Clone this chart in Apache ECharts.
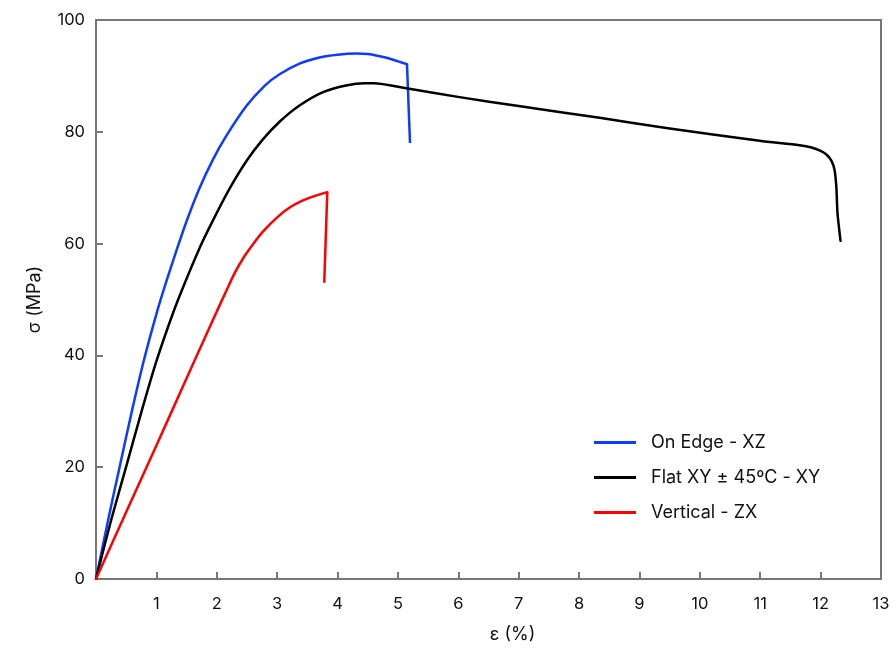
<!DOCTYPE html>
<html>
<head>
<meta charset="utf-8">
<script src="https://cdn.jsdelivr.net/npm/echarts@6/dist/echarts.min.js"></script>
<style>
  html, body { margin: 0; padding: 0; background: #fff; }
  #main { width: 896px; height: 650px; }
</style>
</head>
<body>
<div id="main"></div>
<script>
// strain (%) / stress (MPa) pairs
var onEdgeXZ = [
  [0, 0], [0.2, 10.5], [0.4, 20.5], [0.6, 30.3], [0.79, 39.0], [1.0, 47.4], [1.17, 53.4],
  [1.34, 59.0], [1.5, 64.0], [1.71, 69.8], [1.93, 74.9], [2.16, 79.3], [2.49, 84.6],
  [2.8, 88.3], [3.04, 90.3], [3.37, 92.2], [3.7, 93.3], [4.0, 93.8], [4.31, 94.0],
  [4.5, 93.9], [4.7, 93.5], [4.92, 92.9], [5.15, 92.1]
];
var onEdgeXZBreak = [[5.15, 92.1], [5.2, 78.0]];
var flatXY45 = [
  [0, 0], [0.25, 10.5], [0.51, 20.5], [0.75, 29.8], [0.99, 38.6], [1.2, 45.3], [1.39, 50.8],
  [1.74, 59.8], [2.0, 65.5], [2.21, 69.8], [2.5, 74.9], [2.76, 78.6], [3.04, 81.8],
  [3.37, 84.7], [3.76, 87.1], [4.14, 88.3], [4.45, 88.7], [4.6, 88.7], [5.14, 87.8],
  [6.02, 86.2], [7.0, 84.6], [8.34, 82.5], [9.5, 80.6], [10.99, 78.4], [11.65, 77.6],
  [11.85, 77.2], [12.0, 76.6], [12.1, 75.9], [12.18, 74.8], [12.23, 73.2], [12.26, 70.2],
  [12.28, 65.4], [12.33, 60.5]
];
var verticalZX = [
  [0, 0], [0.5, 12], [1.0, 23.9], [1.5, 35.9], [1.93, 46.2], [2.16, 51.6], [2.3, 54.8],
  [2.45, 57.6], [2.6, 59.9], [2.76, 62.1], [3.0, 64.7], [3.2, 66.4], [3.4, 67.6],
  [3.59, 68.4], [3.83, 69.2]
];
var verticalZXBreak = [[3.83, 69.2], [3.78, 53.0]];

var seriesNames = ['On Edge - XZ', 'Flat XY ± 45ºC - XY', 'Vertical - ZX'];
var seriesColors = ['#0d3bff', '#000000', '#ff0000'];
var seriesData = [onEdgeXZ, flatXY45, verticalZX];
var breakData = [onEdgeXZBreak, null, verticalZXBreak];

var FONT = 'Inter, "Noto Sans", sans-serif';
var GREY = '#777777';

var chart = echarts.init(document.getElementById('main'), null, { renderer: 'canvas' });

var series = [];
for (var i = 0; i < seriesData.length; i++) {
  series.push({
    name: seriesNames[i],
    type: 'line',
    data: seriesData[i],
    showSymbol: false,
    symbol: 'none',
    smooth: 0.25,
    color: seriesColors[i],
    lineStyle: { width: 2.5, color: seriesColors[i], cap: 'round', join: 'round' }
  });
  // sharp drop at fracture, drawn straight
  if (breakData[i]) {
    series.push({
      name: seriesNames[i],
      type: 'line',
      data: breakData[i],
      showSymbol: false,
      symbol: 'none',
      smooth: false,
      color: seriesColors[i],
      lineStyle: { width: 2.5, color: seriesColors[i] }
    });
  }
}

var option = {
  animation: false,
  backgroundColor: '#fff',
  textStyle: { fontFamily: FONT },
  grid: {
    left: 96, right: 15, top: 20, bottom: 71,
    show: true, borderColor: GREY, borderWidth: 2, backgroundColor: 'transparent'
  },
  legend: {
    orient: 'vertical',
    left: 589, top: 427,
    itemWidth: 42, itemHeight: 3, itemGap: 14,
    icon: 'rect',
    data: seriesNames,
    textStyle: { fontSize: 18, color: '#111', padding: [0, 0, 0, 10], lineHeight: 21, fontFamily: FONT }
  },
  xAxis: {
    type: 'value', min: 0, max: 13, interval: 1,
    name: 'ε (%)', nameLocation: 'middle', nameGap: 47,
    nameTextStyle: { fontSize: 18, color: '#111', padding: [0, 0, 0, 48] },
    axisLine: { show: true, lineStyle: { color: GREY, width: 2 } },
    axisTick: { show: true, inside: true, length: 7, lineStyle: { color: GREY, width: 2 } },
    axisLabel: {
      fontSize: 16.5, color: '#111', margin: 17,
      formatter: function (v) { return v === 0 ? '' : v; }
    },
    splitLine: { show: false }
  },
  yAxis: {
    type: 'value', min: 0, max: 100, interval: 20,
    name: 'σ (MPa)', nameLocation: 'middle', nameGap: 52, nameRotate: 90,
    nameTextStyle: { fontSize: 18, color: '#111' },
    axisLine: { show: true, lineStyle: { color: GREY, width: 2 } },
    axisTick: { show: true, inside: true, length: 7, lineStyle: { color: GREY, width: 2 } },
    axisLabel: { fontSize: 16.5, color: '#111', margin: 11 },
    splitLine: { show: false }
  },
  series: series
};

chart.setOption(option);
</script>
</body>
</html>
